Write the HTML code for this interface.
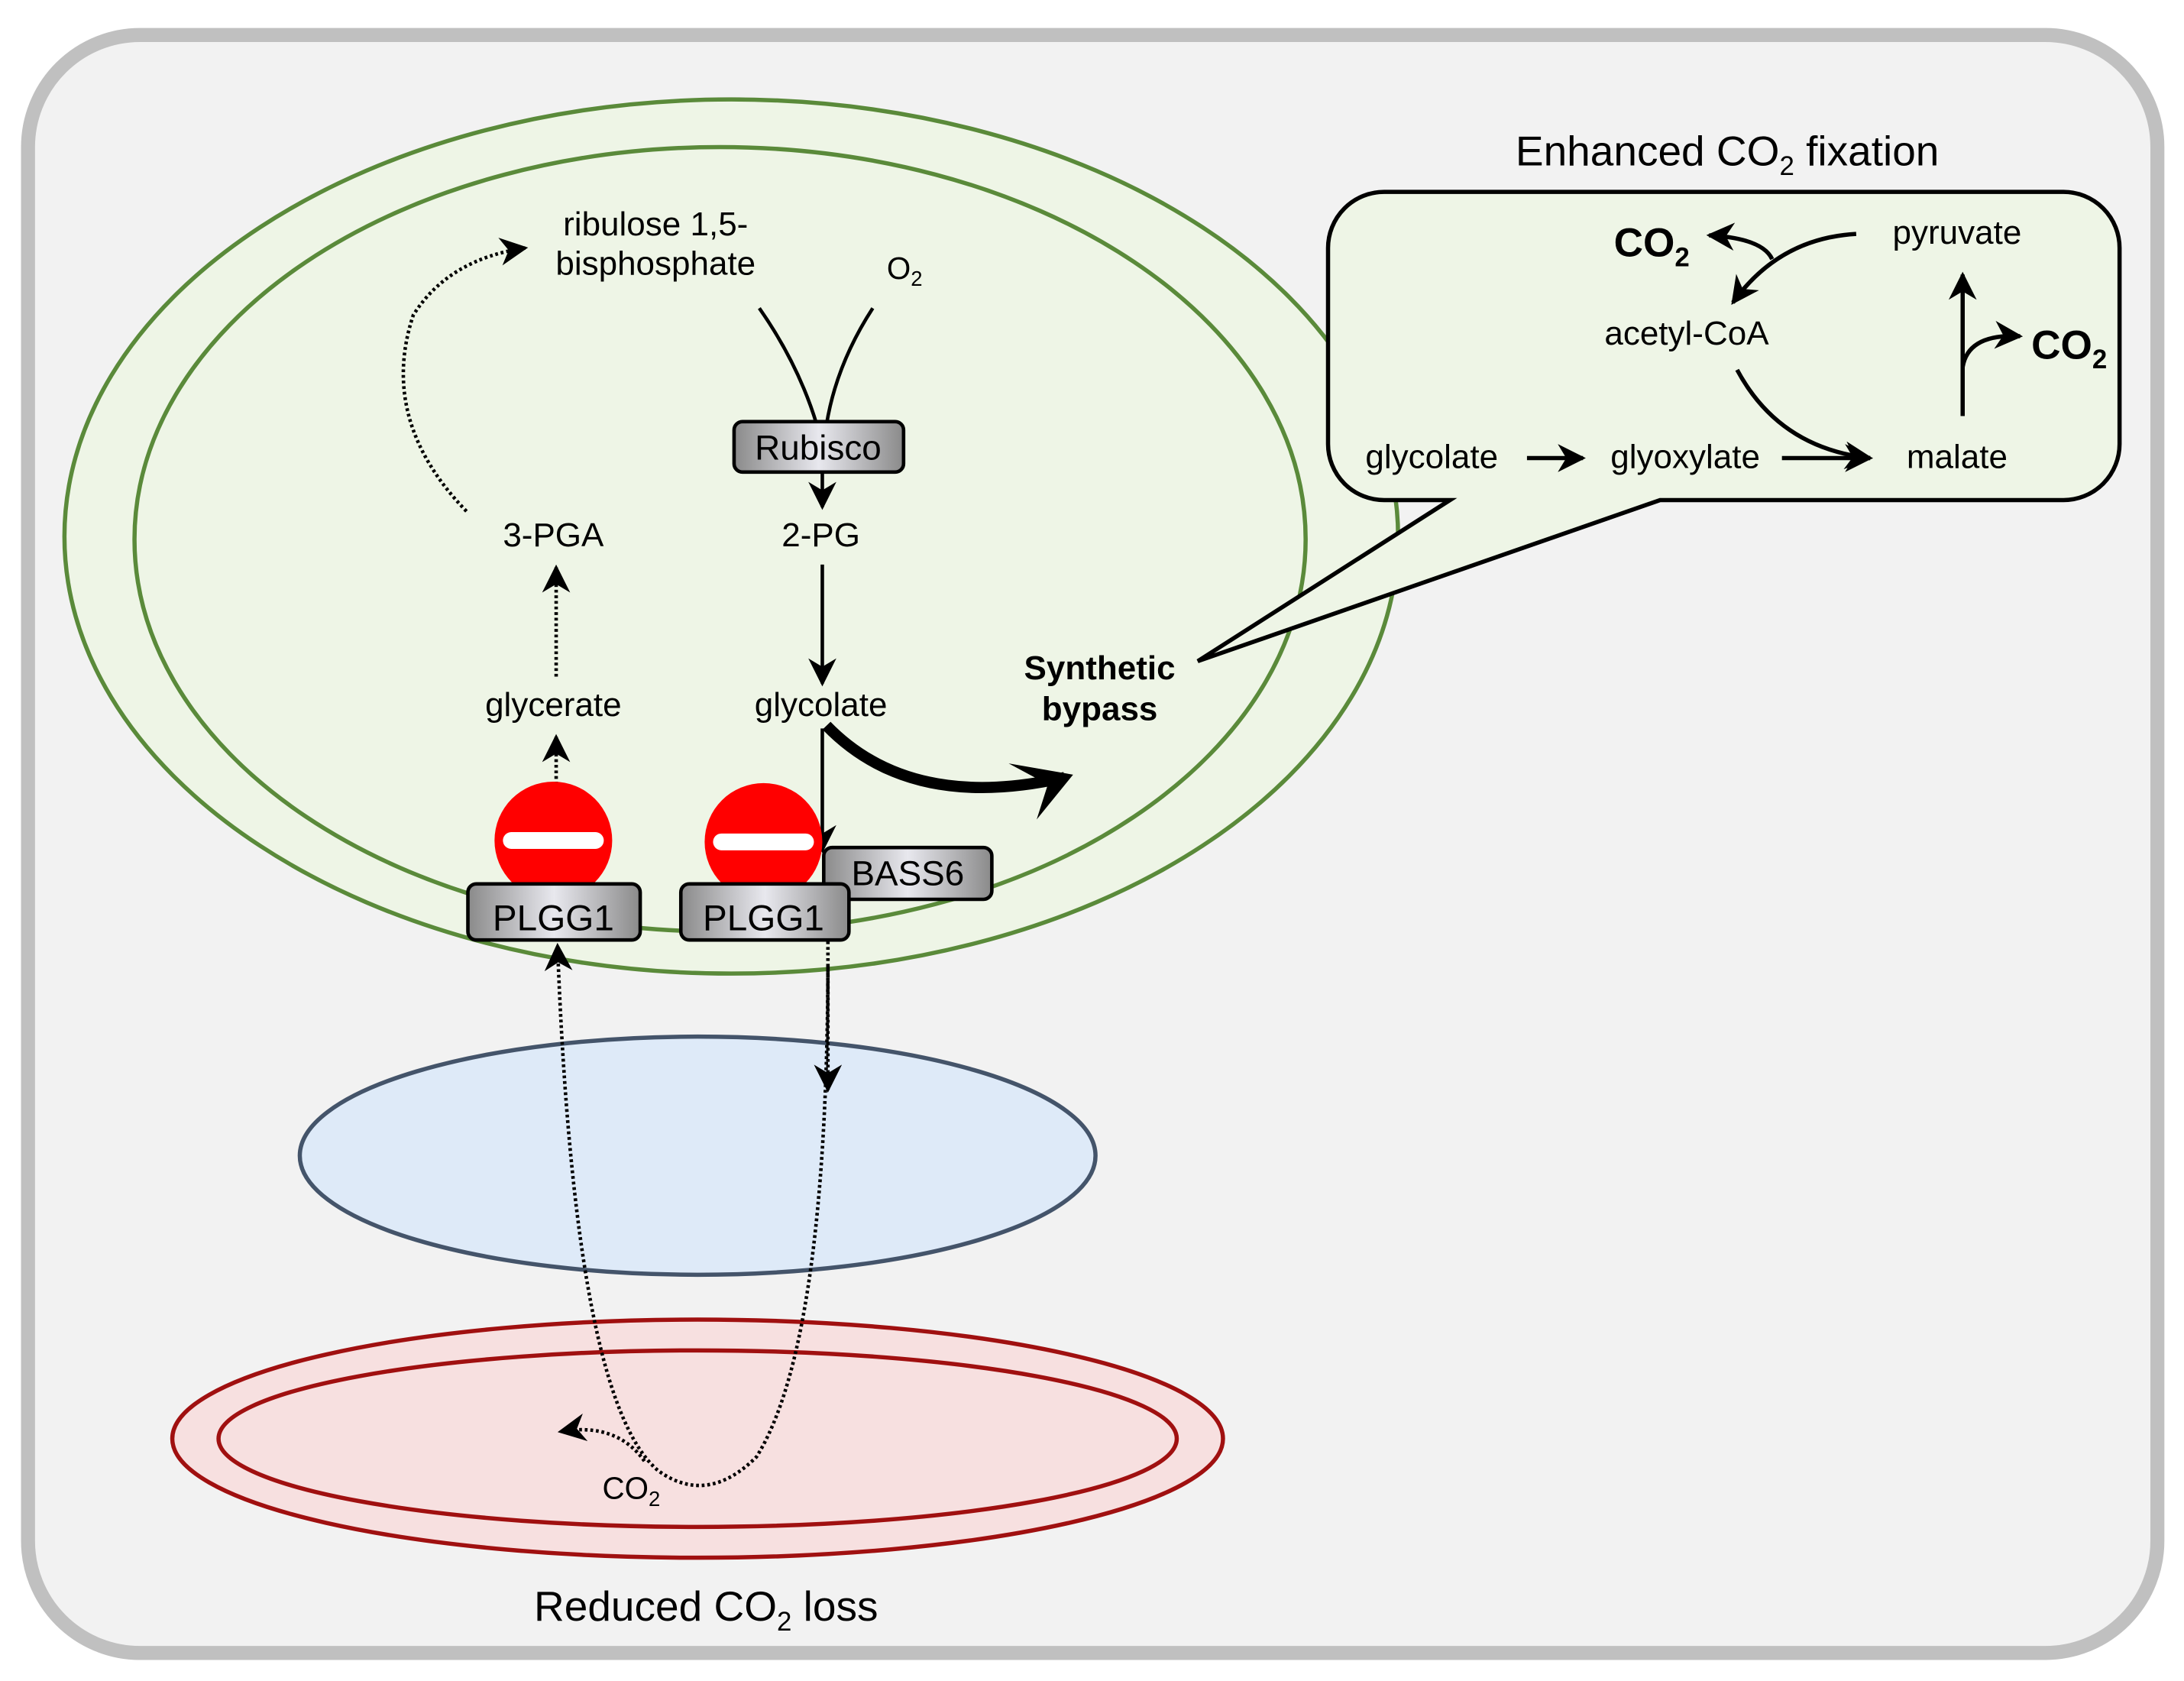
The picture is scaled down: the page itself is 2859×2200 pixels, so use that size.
<!DOCTYPE html>
<html><head><meta charset="utf-8"><style>html,body{margin:0;padding:0;background:#fff}svg{display:block}text{font-family:"Liberation Sans",Arial,sans-serif}</style></head>
<body>
<svg width="2859" height="2200" viewBox="0 0 1559 1200" preserveAspectRatio="none" xmlns="http://www.w3.org/2000/svg">
<defs>
<linearGradient id="g" x1="0" y1="0" x2="1" y2="0">
<stop offset="0" stop-color="#8a8a8a"/><stop offset="0.5" stop-color="#e8e8ee"/><stop offset="1" stop-color="#8a8a8a"/>
</linearGradient>
<marker id="ah2" viewBox="0 0 10 10" refX="9" refY="5" markerWidth="20" markerHeight="20" orient="auto" markerUnits="userSpaceOnUse">
<path d="M0,0 L10,5 L0,10 L3,5 z" fill="#000"/></marker>
</defs>
<rect x="20" y="25" width="1520" height="1155" rx="80" fill="#f2f2f2" stroke="#c0c0c0" stroke-width="10"/>
<ellipse cx="522" cy="383" rx="476" ry="312" fill="#eef5e6" stroke="#5a8a3a" stroke-width="3"/>
<ellipse cx="514" cy="385" rx="418" ry="280" fill="#eef5e6" stroke="#5a8a3a" stroke-width="3"/>
<ellipse cx="498" cy="825" rx="284" ry="85" fill="#deeaf8" stroke="#44546a" stroke-width="3"/>
<ellipse cx="498" cy="1027" rx="375" ry="85" fill="#f7e0e0" stroke="#a01010" stroke-width="3"/>
<ellipse cx="498" cy="1027" rx="342" ry="63" fill="#f7e0e0" stroke="#a01010" stroke-width="3"/>

<path d="M988,137 H1473 A40,40 0 0 1 1513,177 V317 A40,40 0 0 1 1473,357 H1185 L855,472 L1035,357 H988 A40,40 0 0 1 948,317 V177 A40,40 0 0 1 988,137 z" fill="#eef5e6" stroke="#000" stroke-width="3"/>
<text x="1233" y="118" font-size="30" text-anchor="middle">Enhanced CO<tspan font-size="19" dy="7">2</tspan><tspan dy="-7"> fixation</tspan></text>
<text x="1022" y="334" font-size="24" text-anchor="middle">glycolate</text>
<text x="1203" y="334" font-size="24" text-anchor="middle">glyoxylate</text>
<text x="1397" y="334" font-size="24" text-anchor="middle">malate</text>
<text x="1204" y="246" font-size="24" text-anchor="middle">acetyl-CoA</text>
<text x="1397" y="174" font-size="24" text-anchor="middle">pyruvate</text>
<text x="1152" y="183" font-size="29" font-weight="bold">CO<tspan font-size="19" dy="7">2</tspan></text>
<text x="1450" y="256" font-size="29" font-weight="bold">CO<tspan font-size="19" dy="7">2</tspan></text>
<g fill="none" stroke="#000" stroke-width="3">
<path d="M1090,327 H1130" marker-end="url(#ah2)"/>
<path d="M1272,327 H1335" marker-end="url(#ah2)"/>
<path d="M1240,264 Q1270,320 1335,327" marker-end="url(#ah2)"/>
<path d="M1401,297 V196" marker-end="url(#ah2)"/>
<path d="M1401,262 Q1405,238 1442,240" marker-end="url(#ah2)"/>
<path d="M1325,167 Q1270,170 1237,216" marker-end="url(#ah2)"/>
<path d="M1265,185 Q1258,170 1220,168" marker-end="url(#ah2)"/>
</g>

<text x="468" y="168" font-size="24" text-anchor="middle">ribulose 1,5-</text>
<text x="468" y="196" font-size="24" text-anchor="middle">bisphosphate</text>
<text x="633" y="199" font-size="22">O<tspan font-size="15" dy="5">2</tspan></text>
<text x="395" y="390" font-size="24" text-anchor="middle">3-PGA</text>
<text x="586" y="390" font-size="24" text-anchor="middle">2-PG</text>
<text x="395" y="511" font-size="24" text-anchor="middle">glycerate</text>
<text x="586" y="511" font-size="24" text-anchor="middle">glycolate</text>
<text x="785" y="485" font-size="24" font-weight="bold" text-anchor="middle">Synthetic</text>
<text x="785" y="514" font-size="24" font-weight="bold" text-anchor="middle">bypass</text>

<g fill="none" stroke="#000" stroke-width="2.5">
<path d="M542,220 Q570,260 583,303"/>
<path d="M623,220 Q597,260 590,303"/>
<path d="M587,337 V362" marker-end="url(#ah2)"/>
<path d="M587,403 V488" marker-end="url(#ah2)"/>
<path d="M587,520 V607" marker-end="url(#ah2)"/>
</g>
<path d="M590,518 Q650,580 760,555" fill="none" stroke="#000" stroke-width="8"/>
<path d="M720,545 L766,553 L740,585 L748,560 z" fill="#000"/>

<g fill="none" stroke="#000" stroke-width="2.5" stroke-dasharray="2,2">
<path d="M333,365 Q270,300 295,225 Q320,185 375,177" marker-end="url(#ah2)"/>
<path d="M397,483 V405" marker-end="url(#ah2)"/>
<path d="M397,560 V526" marker-end="url(#ah2)"/>
<path d="M591,672 V778" marker-end="url(#ah2)"/>
<path d="M591,690 Q590,960 540,1040 Q505,1075 470,1050 Q410,1000 398,675" marker-end="url(#ah2)"/>
<path d="M460,1043 Q440,1015 400,1022" marker-end="url(#ah2)"/>
</g>
<text x="430" y="1070" font-size="22">CO<tspan font-size="15" dy="5">2</tspan></text>
<text x="504" y="1157" font-size="30" text-anchor="middle">Reduced CO<tspan font-size="19" dy="7">2</tspan><tspan dy="-7"> loss</tspan></text>

<rect x="524" y="301" width="121" height="36" rx="6" fill="url(#g)" stroke="#000" stroke-width="2.5"/>
<text x="584" y="328" font-size="25" text-anchor="middle">Rubisco</text>
<rect x="588" y="605" width="120" height="37" rx="6" fill="url(#g)" stroke="#000" stroke-width="2.5"/>
<text x="648" y="632" font-size="25" text-anchor="middle">BASS6</text>
<circle cx="395" cy="600" r="42" fill="#ff0000"/>
<rect x="359" y="594" width="72" height="12" rx="6" fill="#fff"/>
<circle cx="545" cy="601" r="42" fill="#ff0000"/>
<rect x="509" y="595" width="72" height="12" rx="6" fill="#fff"/>
<rect x="334" y="631" width="123" height="40" rx="6" fill="url(#g)" stroke="#000" stroke-width="2.5"/>
<text x="395" y="664" font-size="26" text-anchor="middle">PLGG1</text>
<rect x="486" y="631" width="120" height="40" rx="6" fill="url(#g)" stroke="#000" stroke-width="2.5"/>
<text x="545" y="664" font-size="26" text-anchor="middle">PLGG1</text>
</svg>
</body></html>
